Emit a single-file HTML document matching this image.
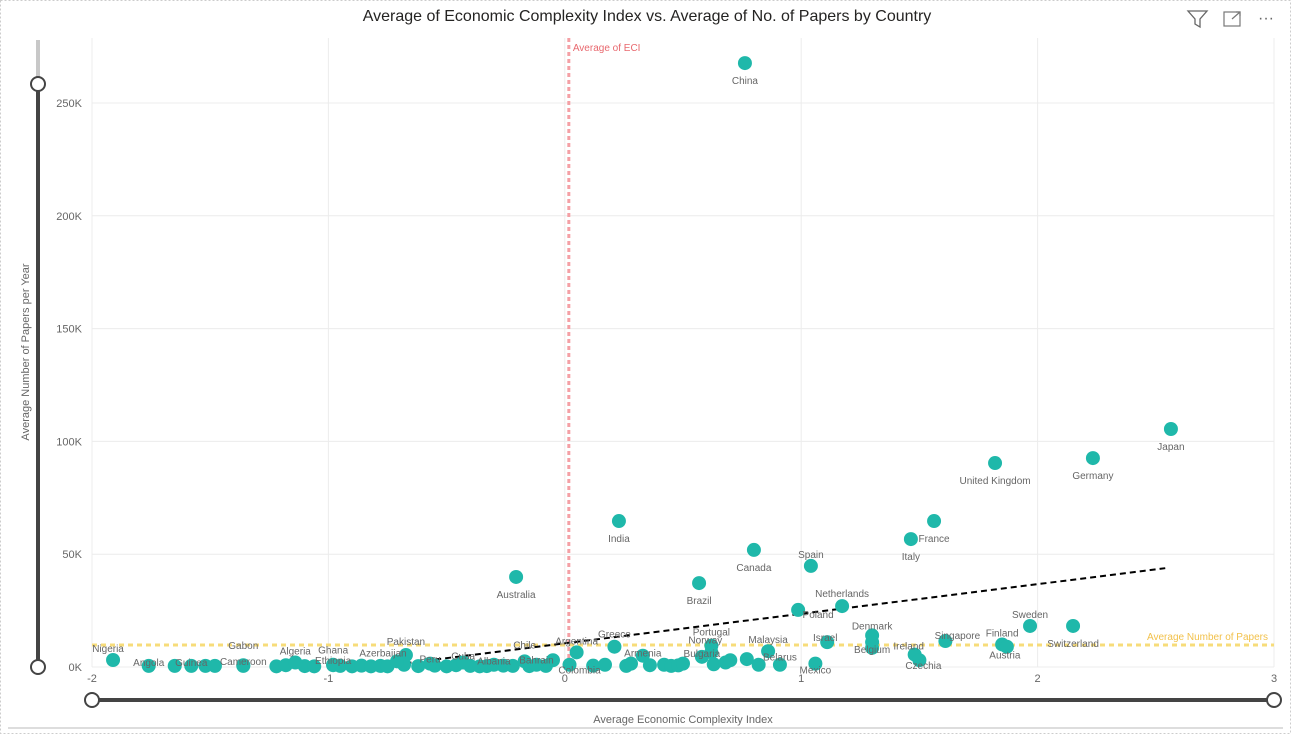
<!DOCTYPE html>
<html><head><meta charset="utf-8"><style>
body{margin:0;background:#fff;font-family:"Liberation Sans",sans-serif;}
svg text{font-family:"Liberation Sans",sans-serif;}
</style></head><body>
<svg id="chart" width="1291" height="734" xmlns="http://www.w3.org/2000/svg">
<rect x="0.5" y="0.5" width="1290" height="733" fill="#fff" stroke="#ccc" stroke-dasharray="2,2"/>
<line x1="8" y1="728" x2="1283" y2="728" stroke="#bbb"/>
<text x="647" y="21" font-size="16" text-anchor="middle" fill="#252423">Average of Economic Complexity Index vs. Average of No. of Papers by Country</text>
<g><path d="M1188,11 L1207,11 L1200,19 L1200,27 L1195,24 L1195,19 Z" fill="none" stroke="#666" stroke-width="1.3"/></g>
<g><rect x="1224" y="12" width="16" height="14" fill="none" stroke="#777" stroke-width="1.2"/><path d="M1232,19 L1240,12 M1236,12 L1240,12 L1240,16" fill="none" stroke="#777" stroke-width="1.2"/></g>
<text x="1266" y="23" font-size="16" text-anchor="middle" fill="#666">···</text>
<g id="grid"></g>
<g id="axes"></g>
<g id="refs"></g>
<g id="marks"></g>
<g id="labels"></g>
<g>
<line x1="38" y1="40" x2="38" y2="84" stroke="#c8c8c8" stroke-width="4"/>
<line x1="38" y1="84" x2="38" y2="667" stroke="#444" stroke-width="4"/>
<circle cx="38" cy="84" r="7" fill="#fff" stroke="#444" stroke-width="2"/>
<circle cx="38" cy="667" r="7" fill="#fff" stroke="#444" stroke-width="2"/>
</g>
<g>
<line x1="92" y1="700" x2="1274" y2="700" stroke="#444" stroke-width="4"/>
<circle cx="92" cy="700" r="7" fill="#fff" stroke="#444" stroke-width="2"/>
<circle cx="1274" cy="700" r="7" fill="#fff" stroke="#444" stroke-width="2"/>
</g>
<text x="683" y="723" font-size="11" text-anchor="middle" fill="#666">Average Economic Complexity Index</text>
<text x="0" y="0" font-size="11" text-anchor="middle" fill="#666" transform="translate(29,352) rotate(-90)">Average Number of Papers per Year</text>
</svg>
<script>
const xTicks=[-2,-1,0,1,2,3];
const yTicks=[0,50,100,150,200,250];
const yTickLabels=["0K","50K","100K","150K","200K","250K"];
const countries=["China","Japan","Germany","United Kingdom","France","Italy","India","Canada","Spain","Australia","Brazil","Netherlands","Poland","Sweden","Switzerland","Nigeria","Pakistan","Angola","Guinea","Gabon","Cameroon","Algeria","Ghana","Ethiopia","Azerbaijan","Peru","Cuba","Albania","Chile","Bahrain","Argentina","Colombia","Greece","Armenia","Portugal","Norway","Bulgaria","Malaysia","Belarus","Israel","Mexico","Denmark","Belgium","Ireland","Czechia","Singapore","Finland","Austria"];
const eci=[0.762,2.564,2.234,1.82,1.562,1.464,0.229,0.80,1.041,-0.206,0.568,1.173,0.987,1.968,2.15,-1.911,-0.672,-1.76,-1.58,-1.36,-1.36,-1.14,-0.98,-0.98,-0.71,-0.57,-0.43,-0.30,-0.17,-0.12,0.05,0.02,0.21,0.33,0.62,0.62,0.58,0.86,0.91,1.11,1.06,1.30,1.30,1.48,1.50,1.61,1.85,1.87];
const papers=[267.7,105.5,92.6,90.4,64.7,56.7,64.7,51.9,44.8,39.9,37.2,27.0,25.3,18.2,18.2,3.1,5.3,0.5,0.5,0.8,0.5,2.0,1.0,0.8,2.5,1.5,2.0,1.0,2.5,1.0,6.5,1.0,9.0,5.0,9.5,6.5,4.5,7.0,1.0,11.0,1.5,14.0,8.5,5.5,3.0,11.5,10.0,9.0];
const labelDx=[0,0,0,0,0,0,0,0,0,0,0,0,20,0,0,-5,0,0,0,0,0,0,0,0,-14,0,0,0,0,0,0,10,0,0,0,-6,0,0,0,-2,0,0,0,-6,4,12,0,-2];
const labelDy=[17,17,17,17,17,17,17,17,-12,17,17,-13,4,-12,17,-12,-14,-4,-4,-20,-5,-12,-15,-5,-9,-5,-7,-4,-17,-5,-12,5,-13,-3,-14,-13,-4,-12,-8,-5,6,-10,1,-9,5,-6,-12,8];
const extraEci=[-1.65,-1.52,-1.48,-1.22,-1.18,-1.10,-1.06,-0.95,-0.9,-0.86,-0.82,-0.78,-0.75,-0.68,-0.62,-0.55,-0.5,-0.46,-0.4,-0.36,-0.33,-0.26,-0.22,-0.15,-0.08,-0.05,0.12,0.17,0.26,0.28,0.36,0.42,0.45,0.48,0.5,0.63,0.68,0.7,0.77,0.82,1.3];
const extraPapers=[0.5,0.5,0.5,0.3,0.8,0.4,0.3,0.5,0.3,0.6,0.3,0.5,0.3,1.0,0.4,0.6,0.3,0.8,0.5,0.3,0.4,0.6,0.5,0.4,0.5,3.0,0.6,1.0,0.5,1.5,0.8,1.0,0.5,0.7,1.5,1.2,2.0,3.0,3.5,1.0,11.0];
const avgEci=0.017, avgPapers=9.75;
const trendX=[-0.8,2.54], trendY=[0,43.8];

const X=v=>92+(v+2)*236.4;
const Y=v=>667-v*2.256;
const NS="http://www.w3.org/2000/svg";
function mk(parent,tag,attrs){const e=document.createElementNS(NS,tag);for(const k in attrs)e.setAttribute(k,attrs[k]);document.getElementById(parent).appendChild(e);return e;}

xTicks.forEach(t=>{
 const g=mk('grid','line',{x1:X(t),x2:X(t),y1:38,y2:667,stroke:'#ececec'});
 
 
 const l=mk('axes','text',{x:X(t),y:682,'font-size':11,'text-anchor':'middle',fill:'#666'});
 l.textContent=t;
 
 
});
yTicks.forEach((t,i)=>{
 const g=mk('grid','line',{x1:92,x2:1274,y1:Y(t),y2:Y(t),stroke:'#ececec'});
 
 
 const l=mk('axes','text',{x:82,y:Y(t)+4,'font-size':11,'text-anchor':'end',fill:'#666'});
 l.textContent=yTickLabels[i];
 
 
});
let r=mk('refs','line',{x1:X(avgEci),x2:X(avgEci),y1:38,y2:667,stroke:'#f4a0a5','stroke-width':3,'stroke-dasharray':'4,3'});


r=mk('refs','text',{x:X(avgEci)+4,y:51,'font-size':10,fill:'#e8686e'});r.textContent='Average of ECI';


r=mk('refs','line',{x1:92,x2:1274,y1:Y(avgPapers),y2:Y(avgPapers),stroke:'#f7dc7a','stroke-width':3,'stroke-dasharray':'5,4'});


r=mk('refs','text',{x:1268,y:Y(avgPapers)-5,'font-size':10,'text-anchor':'end',fill:'#f2c14b'});r.textContent='Average Number of Papers';


r=mk('refs','line',{x1:X(trendX[0]),x2:X(trendX[1]),y1:Y(trendY[0]),y2:Y(trendY[1]),stroke:'#000','stroke-width':2,'stroke-dasharray':'6,4'});



extraEci.forEach((v,i)=>{
 const c=mk('marks','circle',{cx:X(v),cy:Y(extraPapers[i]),r:7,fill:'#1fb8aa'});
 
 
});
countries.forEach((n,i)=>{
 const c=mk('marks','circle',{cx:X(eci[i]),cy:Y(papers[i]),r:7,fill:'#1fb8aa'});
 
 
 const t=mk('labels','text',{x:X(eci[i])+labelDx[i],y:Y(papers[i])+labelDy[i]+4,'font-size':10,'text-anchor':'middle',fill:'#666'});
 t.textContent=n;
 
 
});
</script>
</body></html>
